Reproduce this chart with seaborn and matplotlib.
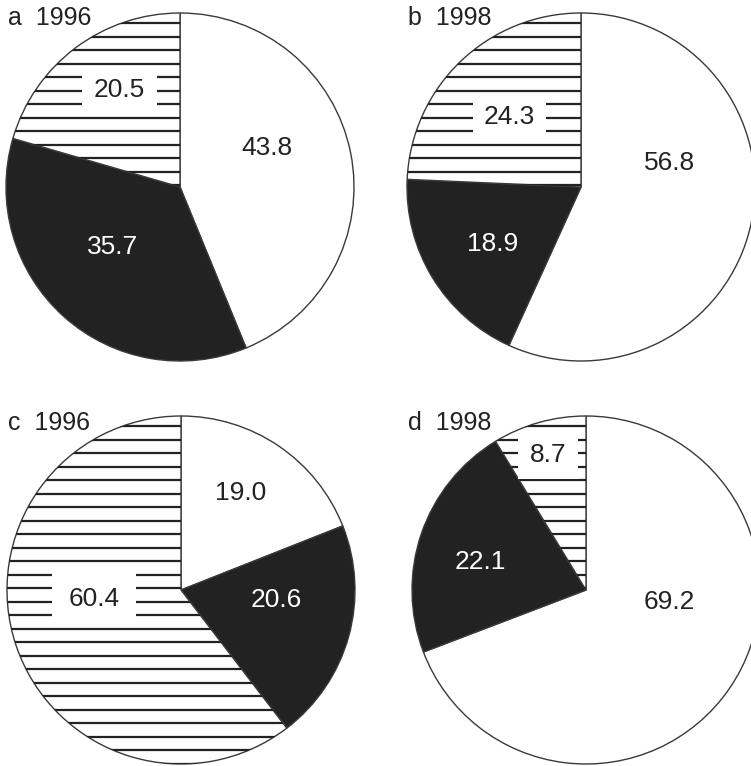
import numpy as np
import matplotlib
matplotlib.use("Agg")
import matplotlib.pyplot as plt
import seaborn as sns

sns.set_theme(style="white")
plt.rcParams["font.family"] = ["Liberation Sans", "DejaVu Sans"]

# Shares (%) in each panel, clockwise from 12 o'clock: open, solid, striped
panel_letters = ["a", "b", "c", "d"]
panel_years = ["1996", "1998", "1996", "1998"]
open_share = [43.8, 56.8, 19.0, 69.2]
solid_share = [35.7, 18.9, 20.6, 22.1]
striped_share = [20.5, 24.3, 60.4, 8.7]

# Layout (pixels) and label placement (in pie-radius units)
W, H, DPI = 751, 766, 100
R = 174
centers = [(180, 187), (581, 187), (181, 590), (586, 590)]
title_pos = [(8, 25), (408, 25), (8, 430), (408, 430)]
open_xy = [(0.50, 0.224), (0.51, 0.14), (0.34, 0.56), (0.48, -0.07)]
solid_xy = [(-0.385, -0.345), (-0.51, -0.33), (0.55, -0.06), (-0.61, 0.16)]
striped_xy = [(-0.35, 0.557), (-0.41, 0.40), (-0.50, -0.05), (-0.22, 0.776)]
striped_pad = [0.45, 0.4, 0.62, 0.45]

INK = "#222222"
FS_LABEL = 19
FS_TITLE = 18

fig = plt.figure(figsize=(W / DPI, H / DPI), dpi=DPI)
fig.patch.set_facecolor("white")

for i in range(4):
    cx, cy = centers[i]
    ax = fig.add_axes([(cx - R) / W, (H - cy - R) / H, 2 * R / W, 2 * R / H])
    ax.axis("off")

    vals = [open_share[i], solid_share[i], striped_share[i]]
    wedges, _ = ax.pie(
        vals,
        colors=["white", INK, "white"],
        startangle=90,
        counterclock=False,
        radius=1.0,
        center=(0, 0),
        wedgeprops=dict(edgecolor="#3a3a3a", linewidth=1.0),
        frame=False,
    )
    ax.set_xlim(-1, 1)
    ax.set_ylim(-1, 1)

    # horizontal striping clipped to the striped wedge
    step = 13.5 / R
    ys = np.concatenate([np.arange(0.011, 1.0, step), np.arange(0.011 - step, -1.0, -step)])
    lines = ax.hlines(ys, -1.05, 1.05, colors=INK, linewidth=1.6, zorder=2)
    lines.set_clip_path(wedges[2])

    ax.text(*open_xy[i], f"{open_share[i]:.1f}", fontsize=FS_LABEL, color=INK,
            ha="center", va="center", zorder=5)
    ax.text(*solid_xy[i], f"{solid_share[i]:.1f}", fontsize=FS_LABEL, color="white",
            ha="center", va="center", zorder=5)
    ax.text(*striped_xy[i], f"{striped_share[i]:.1f}", fontsize=FS_LABEL, color=INK,
            ha="center", va="center", zorder=5,
            bbox=dict(boxstyle=f"square,pad={striped_pad[i]}", facecolor="white",
                      edgecolor="none"))

    tx, ty = title_pos[i]
    fig.text(tx / W, 1 - ty / H, f"{panel_letters[i]}  {panel_years[i]}",
             fontsize=FS_TITLE, color=INK, ha="left", va="baseline")

fig.savefig("out.png", dpi=DPI, facecolor="white")
